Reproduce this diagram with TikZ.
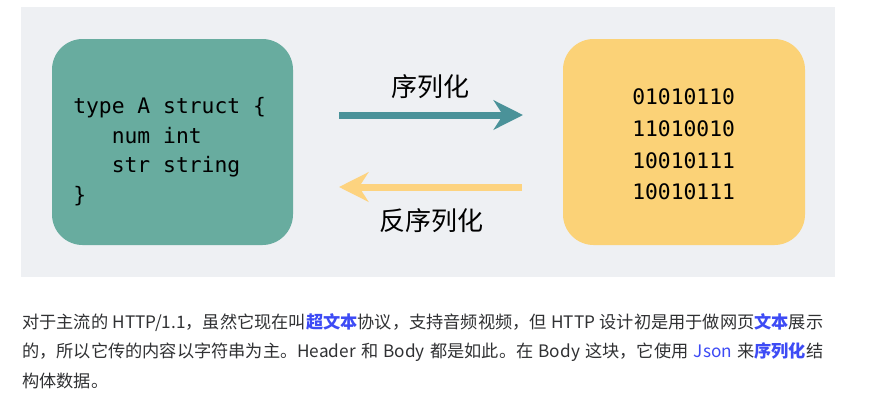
\documentclass[tikz,border=0pt]{standalone}
\usepackage{fontspec}
\setmainfont{Noto Sans CJK SC}
\newfontfamily\cjk{Noto Sans CJK SC}
\newfontfamily\codefont{DejaVu Sans Mono}
\usetikzlibrary{arrows.meta}
\definecolor{bggray}{HTML}{EEF0F3}
\definecolor{boxgreen}{HTML}{68AC9F}
\definecolor{arrteal}{HTML}{4A9299}
\definecolor{boxyellow}{HTML}{FBD277}
\definecolor{arryellow}{HTML}{FDD37F}
\definecolor{txtdark}{HTML}{303133}
\definecolor{linkblue}{HTML}{3D4BF5}
\begin{document}
\begin{tikzpicture}[x=0.75pt,y=-0.75pt,
  codeline/.style={anchor=base west,inner sep=0pt,font=\codefont\fontsize{16}{19}\selectfont,text=black},
  lbl/.style={inner sep=0pt,font=\cjk\fontsize{19.5}{22}\selectfont,text=black},
  para/.style={anchor=base west,inner sep=0pt,font=\cjk\fontsize{12.9}{15}\selectfont,text=txtdark},
  arr/.style={line width=5.25pt,-{Stealth[length=22pt,width=22pt,inset=7pt]}}]
\useasboundingbox (0,0) rectangle (881,405);
\fill[white] (0,0) rectangle (881,405);
\fill[bggray] (21,7) rectangle (835,277);
\fill[boxgreen,rounded corners=23pt] (52,39) rectangle (293,245);
\fill[boxyellow,rounded corners=23pt] (563,39) rectangle (805,245);
% code
\node[codeline] (c1) at (73,113) {type A struct \{};
\node[codeline] (c2) at (73,143) {\phantom{typ}num int};
\node[codeline] (c3) at (73,172) {\phantom{typ}str string};
\node[codeline] (c4) at (73,202) {\}};
% binary
\node[codeline] (b1) at (632,104) {01010110};
\node[codeline] (b2) at (632,136) {11010010};
\node[codeline] (b3) at (632,168) {10010111};
\node[codeline] (b4) at (632,199) {10010111};
% arrows
\coordinate (s1) at (339,115);
\coordinate (e1) at (523,115);
\coordinate (s2) at (522,187);
\coordinate (e2) at (339,187);
\draw[arr,arrteal] (s1) -- (e1);
\draw[arr,arryellow] (s2) -- (e2);
\node[lbl] (ser) at (430,87) {序列化};
\node[lbl] (deser) at (431,221) {反序列化};
% paragraph
\node[para] (p1) at (22,328) {\makebox[600.75pt][s]{对于主流的 HTTP/1.1，虽然它现在叫\textcolor{linkblue}{\textbf{超文本}}协议，支持音频视频，但 HTTP 设计初是用于做网页\textcolor{linkblue}{\textbf{文本}}展示}};
\node[para] (p2) at (22,357) {\makebox[600.75pt][s]{的，所以它传的内容以字符串为主。Header 和 Body 都是如此。在 Body 这块，它使用 \textcolor{linkblue}{Json} 来\textcolor{linkblue}{\textbf{序列化}}结}};
\node[para] (p3) at (22,387) {构体数据。};
\end{tikzpicture}
\end{document}
